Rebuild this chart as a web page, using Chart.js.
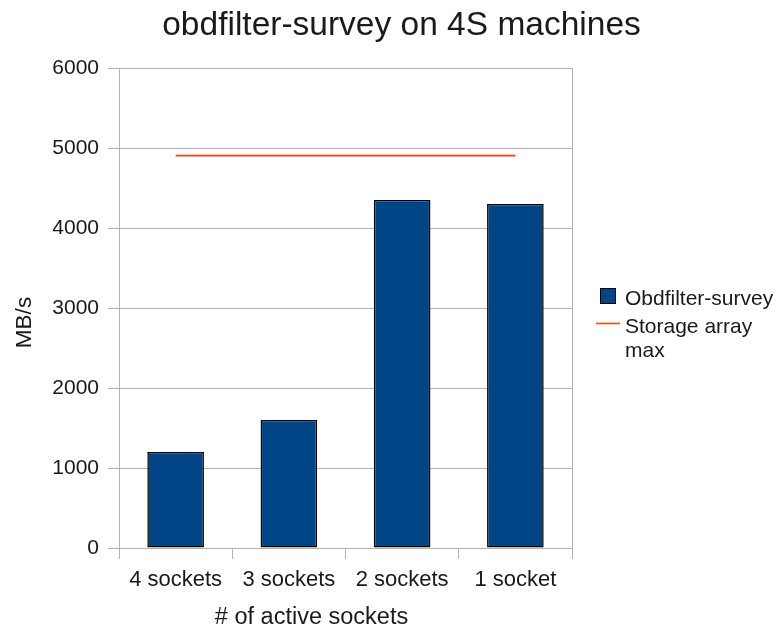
<!DOCTYPE html>
<html>
<head>
<meta charset="utf-8">
<script src="https://cdn.jsdelivr.net/npm/chart.js@4"></script>
<style>
  html, body { margin: 0; padding: 0; background: #ffffff; }
  canvas { display: block; }
</style>
</head>
<body>
<canvas id="c" width="783" height="631"></canvas>
<script>
// ---- data ----
const categories = ['4 sockets', '3 sockets', '2 sockets', '1 socket'];
const surveyValues = [1200, 1600, 4350, 4300];
const storageMaxValues = [4905, 4905, 4905, 4905];
const yTicks = [0, 1000, 2000, 3000, 4000, 5000, 6000];
const chartTitle = 'obdfilter-survey on 4S machines';
const xTitle = '# of active sockets';
const yTitle = 'MB/s';
const surveyLabel = 'Obdfilter-survey';
const storageLabelLines = ['Storage array', 'max'];

const FONT = "'Liberation Sans', Arial, sans-serif";
const TEXT = '#1a1a1a';
const GRID = '#b3b3b3';
const BLUE = '#004586';
const ORANGE = '#ff420e';

const decor = {
  id: 'decor',
  beforeDatasetsDraw(chart) {
    const { ctx, chartArea: a } = chart;
    ctx.save();
    ctx.strokeStyle = GRID;
    ctx.lineWidth = 1;
    ctx.beginPath();
    ctx.moveTo(Math.round(a.right) + 0.5, a.top);
    ctx.lineTo(Math.round(a.right) + 0.5, a.bottom);
    ctx.stroke();
    ctx.restore();
  },
  afterDraw(chart) {
    const { ctx } = chart;
    ctx.save();
    ctx.fillStyle = TEXT;
    ctx.textBaseline = 'alphabetic';
    // title
    ctx.font = `33.5px ${FONT}`;
    ctx.textAlign = 'center';
    ctx.fillText(chartTitle, 401.5, 35);
    // x title
    ctx.font = `23.5px ${FONT}`;
    ctx.fillText(xTitle, 311.5, 624);
    // y title
    ctx.save();
    ctx.translate(31, 322.5);
    ctx.rotate(-Math.PI / 2);
    ctx.font = `22.5px ${FONT}`;
    ctx.textAlign = 'center';
    ctx.fillText(yTitle, 0, 0);
    ctx.restore();
    // legend
    ctx.fillStyle = BLUE;
    ctx.fillRect(600, 288, 16, 16);
    ctx.strokeStyle = '#000000';
    ctx.lineWidth = 1;
    ctx.strokeRect(600.5, 288.5, 15, 15);
    ctx.strokeStyle = ORANGE;
    ctx.lineWidth = 1.6;
    ctx.beginPath();
    ctx.moveTo(596, 323.5);
    ctx.lineTo(620, 323.5);
    ctx.stroke();
    ctx.fillStyle = TEXT;
    ctx.font = `21px ${FONT}`;
    ctx.textAlign = 'left';
    ctx.fillText(surveyLabel, 625, 305);
    storageLabelLines.forEach((t, i) => ctx.fillText(t, 625, 333 + i * 24));
    ctx.restore();
  }
};

new Chart(document.getElementById('c'), {
  data: {
    labels: categories,
    datasets: [
      {
        type: 'bar',
        label: surveyLabel,
        data: surveyValues,
        backgroundColor: BLUE,
        borderColor: '#000000',
        borderWidth: 1.5,
        borderSkipped: false,
        barPercentage: 0.5,
        categoryPercentage: 1.0,
        order: 2
      },
      {
        type: 'line',
        label: storageLabelLines.join(' '),
        data: storageMaxValues,
        borderColor: ORANGE,
        backgroundColor: ORANGE,
        borderWidth: 1.6,
        pointRadius: 0,
        fill: false,
        order: 1
      }
    ]
  },
  options: {
    responsive: false,
    animation: false,
    layout: { padding: { top: 68, right: 211, bottom: 0, left: 0 } },
    plugins: {
      legend: { display: false },
      title: { display: false },
      tooltip: { enabled: false }
    },
    scales: {
      x: {
        offset: true,
        grid: { offset: true, drawOnChartArea: false, drawTicks: true, tickLength: 11, color: GRID },
        border: { display: true, color: GRID },
        ticks: { color: TEXT, font: { size: 22, family: FONT }, padding: 8, maxRotation: 0 },
        afterFit(scale) { scale.height = 83; }
      },
      y: {
        min: 0,
        max: 6000,
        afterBuildTicks(scale) { scale.ticks = yTicks.map(v => ({ value: v })); },
        grid: { color: GRID, tickLength: 11, drawTicks: true },
        border: { display: true, color: GRID },
        ticks: {
          color: TEXT,
          font: { size: 21, family: FONT },
          padding: 9,
          callback: (v) => String(v)
        },
        afterFit(scale) { scale.width = 119; }
      }
    }
  },
  plugins: [decor]
});
</script>
</body>
</html>
